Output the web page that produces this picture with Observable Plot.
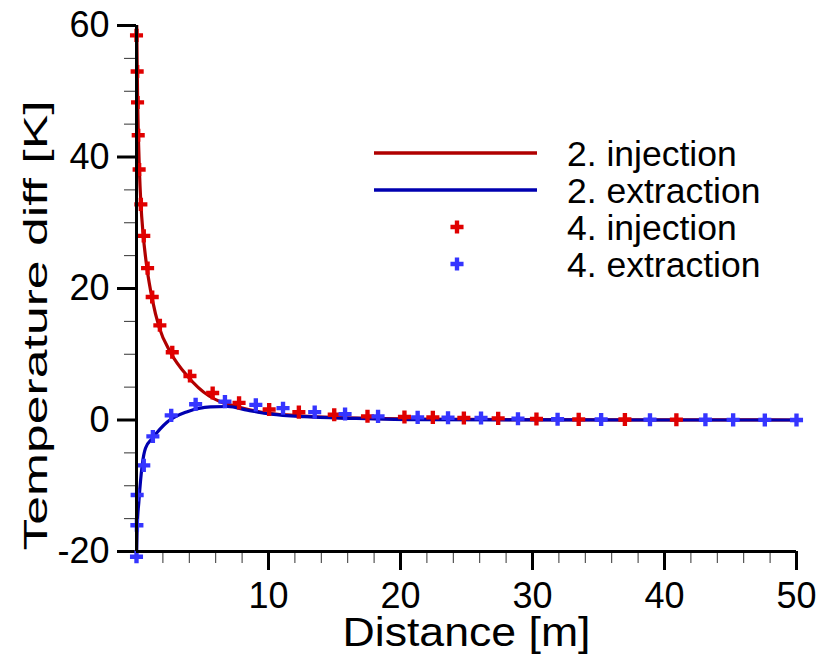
<!DOCTYPE html>
<html><head><meta charset="utf-8">
<script src="https://cdn.jsdelivr.net/npm/d3@7"></script>
<script src="https://cdn.jsdelivr.net/npm/@observablehq/plot@0.6"></script>
<style>
body{margin:0;background:#fff;}
#wrap{position:relative;width:819px;height:655px;font-family:"Liberation Sans",Arial,sans-serif;}
#legend{position:absolute;left:0;top:0;pointer-events:none;}
</style></head><body><div id="wrap"></div>
<script>
// Series 2: lines
const injLineX = [0.02, 0.05, 0.1, 0.15, 0.22, 0.33, 0.5, 0.8, 1.2, 1.7, 2.6, 3.85, 5.5, 6.4, 7.65, 9.7, 11.9, 15.2, 21.6, 30, 40, 50];
const injLineY = [60, 54, 47, 42.5, 38, 33, 28.3, 23, 18.3, 14.2, 10.2, 6.7, 3.65, 2.75, 2.0, 1.1, 0.7, 0.35, 0.15, 0.05, 0.02, 0];
const extLineX = [0.01, 0.05, 0.18, 0.43, 0.68, 1.2, 2.33, 3.85, 5.6, 6.9, 8.4, 10.2, 12.7, 16.5, 21.6, 30, 40, 50];
const extLineY = [-20.5, -16.5, -12.4, -6.9, -4.3, -2.8, -0.3, 1.27, 2.0, 2.05, 1.5, 0.9, 0.5, 0.25, 0.05, 0.02, 0, 0];
// Series 4: markers
const injPtsX = [0.0, 0.05, 0.08, 0.13, 0.2, 0.33, 0.55, 0.84, 1.19, 1.77, 2.71, 4.05, 5.77, 7.77, 10.05, 12.3, 14.98, 17.5, 20.3, 22.45, 24.8, 27.4, 30.3, 33.5, 37.0, 40.9];
const injPtsY = [58.5, 53.0, 48.3, 43.3, 38.1, 32.8, 28.0, 23.1, 18.7, 14.4, 10.3, 6.7, 4.1, 2.6, 1.6, 1.2, 0.8, 0.56, 0.45, 0.4, 0.3, 0.25, 0.15, 0.1, 0.08, 0.05];
const extPtsX = [0.0, 0.03, 0.05, 0.55, 1.24, 2.63, 4.48, 6.7, 9.04, 11.1, 13.5, 15.8, 18.3, 21.3, 23.6, 26.1, 28.9, 31.9, 35.2, 38.9, 43.1, 45.2, 47.6, 50.0];
const extPtsY = [-20.8, -16.0, -11.4, -6.9, -2.5, 0.7, 2.4, 2.8, 2.3, 1.8, 1.2, 0.9, 0.55, 0.4, 0.35, 0.3, 0.2, 0.12, 0.08, 0.05, 0.03, 0.02, 0.01, 0.0];
// Ticks
const xMajor = [10, 20, 30, 40, 50];
const xMinor = [2,4,6,8,12,14,16,18,22,24,26,28,32,34,36,38,42,44,46,48];
const yMajor = [-20, 0, 20, 40, 60];
const yMinor = [-15,-10,-5,5,10,15,25,30,35,45,50,55];
// Legend
const legendNames = ["2. injection", "2. extraction", "4. injection", "4. extraction"];
const lineColors = {inj: "#b00000", ext: "#0000b0"};
const markColors = {inj: "#e00000", ext: "#3535ff"};

const zip = (xs, ys) => xs.map((x, i) => ({x, y: ys[i]}));
const injLine = zip(injLineX, injLineY), extLine = zip(extLineX, extLineY);
const injPts = zip(injPtsX, injPtsY), extPts = zip(extPtsX, extPtsY);

const plot = Plot.plot({
  width: 819, height: 655,
  marginLeft: 136, marginRight: 23, marginTop: 25, marginBottom: 104,
  x: {domain: [0, 50]},
  y: {domain: [-20, 60]},
  style: {fontFamily: "Liberation Sans, Arial, sans-serif", background: "#fff", color: "#000", overflow: "visible"},
  marks: [
    Plot.axisX({ticks: xMinor, tickSize: 12, tickFormat: () => "", stroke: "#333", strokeWidth: 1, label: null}),
    Plot.axisY({ticks: yMinor, tickSize: 12, tickFormat: () => "", stroke: "#333", strokeWidth: 1, label: null}),
    Plot.axisX({ticks: xMajor, tickSize: 19, tickPadding: 12, tickFormat: d => String(d), strokeWidth: 3, fontSize: 36, label: null}),
    Plot.axisY({ticks: yMajor, tickSize: 19, tickPadding: 8, tickFormat: d => String(d), strokeWidth: 3, fontSize: 36, label: null}),
    Plot.line(injLine, {x: "x", y: "y", stroke: lineColors.inj, strokeWidth: 3.2, curve: "monotone-x", clip: true}),
    Plot.line(extLine, {x: "x", y: "y", stroke: lineColors.ext, strokeWidth: 3.2, curve: "monotone-x", clip: true}),
    Plot.dot(injPts, {x: "x", y: "y", symbol: "cross", r: 5.5, fill: markColors.inj, stroke: null}),
    Plot.dot(extPts, {x: "x", y: "y", symbol: "cross", r: 5.5, fill: markColors.ext, stroke: null}),
    Plot.ruleX([0], {y1: -20, y2: 60, stroke: "#000", strokeWidth: 3}),
    Plot.ruleY([-20], {x1: 0, x2: 50, stroke: "#000", strokeWidth: 3}),
    Plot.text(["Distance [m]"], {text: d => d, frameAnchor: "bottom", lineAnchor: "middle", textAnchor: "middle", dy: 82, fontSize: 40, fill: "#000", className: "xtitle"}),
    Plot.text(["Temperature diff [K]"], {text: d => d, frameAnchor: "left", lineAnchor: "middle", textAnchor: "middle", dx: -100, dy: 37, rotate: -90, fontSize: 33, fill: "#000", className: "ytitle"})
  ]
});
const wrap = document.getElementById("wrap");
wrap.appendChild(plot);
// exact text lengths as in the reference
plot.querySelectorAll(".xtitle text").forEach(t => { t.setAttribute("textLength", 248); t.setAttribute("lengthAdjust", "spacingAndGlyphs"); });
plot.querySelectorAll(".ytitle text").forEach(t => { t.setAttribute("textLength", 450); t.setAttribute("lengthAdjust", "spacingAndGlyphs"); });
// thick major ticks
["x-axis tick", "y-axis tick"].forEach(lbl => {
  const gs = plot.querySelectorAll(`g[aria-label="${lbl}"]`);
  const g = gs[gs.length - 1];
  if (g) { g.setAttribute("stroke-width", 3); g.querySelectorAll("path,line").forEach(p => p.setAttribute("stroke-width", 3)); }
});

// Legend overlay
const lg = d3.select(wrap).append("svg").attr("id", "legend").attr("width", 819).attr("height", 655);
const rowsY = [153, 190, 227, 264];
lg.append("line").attr("x1", 374).attr("x2", 537).attr("y1", rowsY[0]).attr("y2", rowsY[0]).attr("stroke", lineColors.inj).attr("stroke-width", 3.5);
lg.append("line").attr("x1", 374).attr("x2", 537).attr("y1", rowsY[1]).attr("y2", rowsY[1]).attr("stroke", lineColors.ext).attr("stroke-width", 3.5);
const cross = d3.symbol(d3.symbolCross, Math.PI * 5.5 * 5.5)();
lg.append("path").attr("d", cross).attr("transform", `translate(457,${rowsY[2]})`).attr("fill", markColors.inj);
lg.append("path").attr("d", cross).attr("transform", `translate(457,${rowsY[3]})`).attr("fill", markColors.ext);
legendNames.forEach((name, i) => {
  lg.append("text").attr("x", 567).attr("y", rowsY[i] + 12.6).attr("font-size", 35.5)
    .attr("font-family", "Liberation Sans, Arial, sans-serif").attr("fill", "#000").text(name);
});
</script></body></html>
